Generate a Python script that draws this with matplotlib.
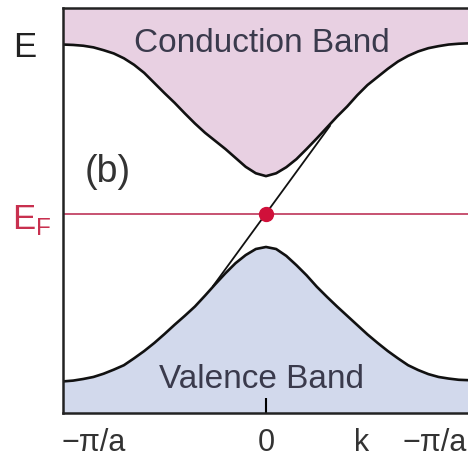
import numpy as np
import matplotlib
matplotlib.use("Agg")
import matplotlib.pyplot as plt

plt.rcParams['font.family'] = ['Liberation Sans', 'DejaVu Sans']
plt.rcParams['mathtext.fontset'] = 'custom'
plt.rcParams['mathtext.rm'] = 'Liberation Sans'

# wave vector k (units of pi/a) and band energies
k = [-1.0, -0.95, -0.9, -0.85, -0.8, -0.75, -0.7, -0.65, -0.6, -0.55,
     -0.5, -0.45, -0.4, -0.35, -0.3, -0.25, -0.2, -0.15, -0.1, -0.05,
     0.0, 0.05, 0.1, 0.15, 0.2, 0.25, 0.3, 0.35, 0.4, 0.45,
     0.5, 0.55, 0.6, 0.65, 0.7, 0.75, 0.8, 0.85, 0.9, 0.95, 1.0]
conduction = [9.10, 9.09, 9.07, 9.03, 8.96, 8.88, 8.76, 8.60, 8.40, 8.15,
              7.90, 7.66, 7.40, 7.15, 6.92, 6.72, 6.52, 6.30, 6.08, 5.92,
              5.85, 5.92, 6.07, 6.27, 6.52, 6.78, 7.05, 7.32, 7.57, 7.85,
              8.10, 8.30, 8.50, 8.68, 8.82, 8.93, 9.01, 9.06, 9.10, 9.12, 9.13]
valence = [0.78, 0.80, 0.84, 0.89, 0.97, 1.07, 1.18, 1.35, 1.53, 1.73,
           1.95, 2.18, 2.40, 2.63, 2.90, 3.18, 3.45, 3.70, 3.90, 4.05,
           4.10, 4.05, 3.88, 3.65, 3.40, 3.12, 2.87, 2.63, 2.40, 2.17,
           1.94, 1.73, 1.53, 1.35, 1.18, 1.06, 0.96, 0.89, 0.85, 0.82, 0.81]

# linear (Dirac-like) state crossing the gap
dirac_k = [-0.26, 0.315]
dirac_E = [3.14, 7.09]
E_fermi = 4.91

tick_pos = [-0.85, 0.0, 0.47, 0.83]
tick_labels = ['\u2212\u03c0/a', '0', 'k', '\u2212\u03c0/a']

E_top = 10.0

fig = plt.figure(figsize=(4.68, 4.57), dpi=100)
ax = fig.add_axes([0.1346, 0.0963, 0.8675, 0.886])

ax.fill_between(k, conduction, E_top, color='#e8d0e2', lw=0)
ax.fill_between(k, 0, valence, color='#d2d9ec', lw=0)
ax.plot(k, conduction, color='#111111', lw=1.9, solid_capstyle='round')
ax.plot(k, valence, color='#111111', lw=1.9, solid_capstyle='round')

ax.axhline(E_fermi, color='#b8234a', lw=1.1)
ax.plot(dirac_k, dirac_E, color='#111111', lw=1.3)
ax.plot([0], [E_fermi], 'o', color='#d0103a', ms=10, zorder=5)

ax.set_xlim(-1, 1)
ax.set_ylim(0, E_top)
ax.set_yticks([])
ax.set_xticks(tick_pos)
ax.set_xticklabels(tick_labels, fontsize=22, color='#333333')
ax.tick_params(axis='x', direction='in', length=11, width=1.5, pad=11)
for i, t in enumerate(ax.xaxis.get_major_ticks()):
    if tick_pos[i] != 0.0:
        t.tick1line.set_visible(False)

for s in ['left', 'top', 'bottom']:
    ax.spines[s].set_linewidth(1.8)
    ax.spines[s].set_color('#222222')
ax.spines['right'].set_visible(False)

ax.text(-0.02, 8.91, 'Conduction Band', fontsize=24, color='#3a3a4c',
        ha='center', va='baseline')
ax.text(-0.02, 0.62, 'Valence Band', fontsize=24, color='#3a3a4c',
        ha='center', va='baseline')
ax.text(-0.78, 5.95, '(b)', fontsize=27, color='#333333',
        ha='center', va='center')

fig.text(0.053, 0.897, 'E', fontsize=25, color='#222222',
         ha='center', va='center')
fig.text(0.026, 0.499, r'E$_\mathrm{F}$', fontsize=25, color='#c8304f',
         ha='left', va='baseline')

fig.savefig('out.png', dpi=100)
